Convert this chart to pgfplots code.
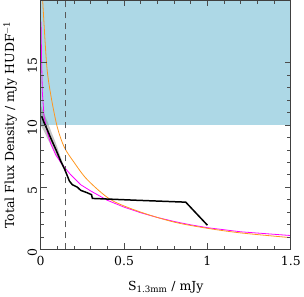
\documentclass[border=0pt]{standalone}
\usepackage{fontspec}
\setmainfont{DejaVu Serif}
\usepackage{pgfplots}
\pgfplotsset{compat=1.18}
\definecolor{lblue}{RGB}{173,216,230}
\definecolor{morange}{RGB}{255,150,30}
\definecolor{mmag}{RGB}{255,0,255}
\begin{document}
\begin{tikzpicture}
\begin{axis}[
  scale only axis,
  width=250bp, height=249bp,
  xmin=0, xmax=1.5, ymin=0, ymax=20,
  xtick={0,0.5,1,1.5}, ytick={0,5,10,15},
  xticklabels={0,0.5,1,1.5},
  yticklabels={0,5,10,15},
  minor x tick num=4, minor y tick num=4,
  tick align=inside,
  major tick length=6bp, minor tick length=3.5bp,
  every tick/.style={black!70, line width=0.6pt},
  axis line style={black!75, line width=0.8pt},
  tick label style={font=\fontsize{12.5}{14}\selectfont},
  xticklabel style={yshift=-3bp},
  yticklabel style={rotate=90, anchor=south, xshift=-3bp},
  label style={font=\fontsize{12.5}{14}\selectfont},
  xlabel={S\textsubscript{1.3mm} / mJy},
  xlabel style={yshift=-9bp},
  ylabel={Total Flux Density / mJy HUDF\textsuperscript{$-$1}},
  ylabel style={yshift=4bp},
  axis on top,
  clip=true,
]
% shaded region
\addplot[draw=none, fill=lblue] coordinates {(0,10) (1.5,10) (1.5,20) (0,20)} -- cycle;
% gray uncertainty band
\addplot[draw=none, fill=gray, fill opacity=0.45] coordinates {
(0.003,11.5) (0.02,10.9) (0.04,10.3) (0.065,9.4) (0.092,8.5) (0.12,7.4) (0.145,6.5)
(0.12,6.9) (0.092,7.6) (0.065,8.3) (0.04,8.9) (0.02,9.5) (0.003,9.9)} -- cycle;
% magenta model
\addplot[mmag, line width=0.8pt] coordinates {
(0.002,18.3) (0.005,15.5) (0.01,12.6) (0.02,10.7) (0.04,9.4) (0.06,8.5) (0.09,7.6)
(0.13,6.8) (0.18,6.0) (0.24,5.2) (0.3,4.7) (0.4,3.95) (0.5,3.4) (0.6,2.95)
(0.7,2.57) (0.8,2.25) (0.9,1.98) (1.0,1.75) (1.2,1.42) (1.5,1.12)};
% orange model
\addplot[morange, line width=0.8pt, smooth] coordinates {
(0.012,20) (0.036,14.8) (0.062,12.3) (0.10,9.8) (0.142,8.2) (0.2,7.0) (0.28,5.6)
(0.42,4.0) (0.6,3.0) (0.8,2.2) (1.0,1.7) (1.2,1.33) (1.5,0.95)};
% dashed line
\addplot[black!65, dash pattern=on 6bp off 5bp, line width=0.8pt] coordinates {(0.15,0) (0.15,20)};
% black measured
\addplot[black, line width=1.5pt] coordinates {
(0.006,10.7) (0.02,10.2) (0.04,9.6) (0.065,8.8) (0.092,8.0) (0.12,7.1) (0.145,6.4)
(0.16,5.9) (0.172,5.5) (0.19,5.2) (0.22,5.0) (0.24,4.75) (0.28,4.55) (0.305,4.4)
(0.31,4.1) (0.58,3.95) (0.87,3.8) (1.0,1.95)};
\end{axis}
\end{tikzpicture}
\end{document}
